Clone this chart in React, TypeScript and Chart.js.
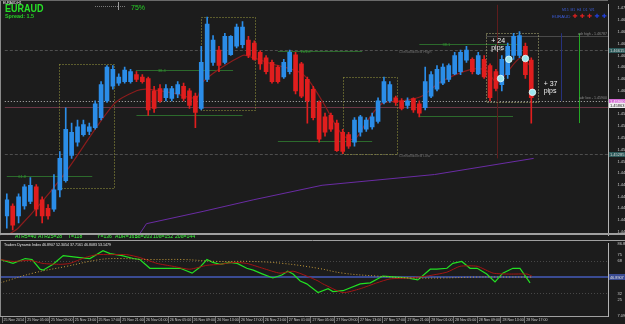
import React, { useEffect, useRef } from "react";
import { Chart, registerables } from "chart.js";

Chart.register(...registerables);

const FONT = "'Liberation Sans', Arial, sans-serif";

// ---------------- data ----------------
const candleOpen = [
  1.4442, 1.4455, 1.4442, 1.4455, 1.4461, 1.4480, 1.4463, 1.4452, 1.4451, 1.4476,
  1.4488, 1.4521, 1.4538, 1.4548, 1.4552, 1.4557, 1.4570, 1.4592, 1.4611, 1.4615,
  1.4617, 1.4617, 1.4626, 1.4623, 1.4621, 1.4605, 1.4608, 1.4596, 1.4595, 1.4601,
  1.4611, 1.4605, 1.4598, 1.4582, 1.4620, 1.4642, 1.4658, 1.4642, 1.4652, 1.4663,
  1.4665, 1.4671, 1.4667, 1.4655, 1.4648, 1.4642, 1.4636, 1.4623, 1.4630, 1.4652,
  1.4640, 1.4620, 1.4607, 1.4590, 1.4571, 1.4573, 1.4563, 1.4551, 1.4548, 1.4538,
  1.4551, 1.4555, 1.4558, 1.4565, 1.4590, 1.4592, 1.4596, 1.4592, 1.4586, 1.4595,
  1.4588, 1.4583, 1.4598, 1.4607, 1.4615, 1.4620, 1.4627, 1.4630, 1.4645, 1.4646,
  1.4627, 1.4646, 1.4638, 1.4630, 1.4613, 1.4626, 1.4651, 1.4651, 1.4663, 1.4645,
];
const candleHigh = [
  1.4471, 1.4458, 1.4471, 1.4483, 1.4492, 1.4483, 1.4467, 1.4457, 1.4496, 1.4526,
  1.4583, 1.4563, 1.4567, 1.4567, 1.4563, 1.4592, 1.4617, 1.4638, 1.4638, 1.4627,
  1.4636, 1.4633, 1.4630, 1.4626, 1.4623, 1.4611, 1.4613, 1.4613, 1.4611, 1.4617,
  1.4615, 1.4608, 1.4602, 1.4663, 1.4701, 1.4677, 1.4663, 1.4680, 1.4677, 1.4692,
  1.4695, 1.4676, 1.4670, 1.4657, 1.4651, 1.4645, 1.4638, 1.4646, 1.4658, 1.4655,
  1.4642, 1.4623, 1.4611, 1.4592, 1.4576, 1.4576, 1.4567, 1.4555, 1.4551, 1.4570,
  1.4573, 1.4570, 1.4576, 1.4596, 1.4623, 1.4617, 1.4598, 1.4595, 1.4596, 1.4596,
  1.4592, 1.4636, 1.4630, 1.4638, 1.4640, 1.4640, 1.4655, 1.4658, 1.4663, 1.4648,
  1.4655, 1.4651, 1.4640, 1.4633, 1.4651, 1.4667, 1.4680, 1.4682, 1.4667, 1.4648,
];
const candleLow = [
  1.4426, 1.4424, 1.4433, 1.4451, 1.4458, 1.4442, 1.4433, 1.4438, 1.4448, 1.4467,
  1.4486, 1.4517, 1.4533, 1.4546, 1.4548, 1.4555, 1.4567, 1.4590, 1.4607, 1.4612,
  1.4615, 1.4615, 1.4617, 1.4615, 1.4573, 1.4577, 1.4590, 1.4592, 1.4592, 1.4596,
  1.4592, 1.4582, 1.4557, 1.4580, 1.4617, 1.4638, 1.4630, 1.4640, 1.4651, 1.4661,
  1.4661, 1.4648, 1.4645, 1.4633, 1.4627, 1.4615, 1.4615, 1.4621, 1.4627, 1.4601,
  1.4596, 1.4563, 1.4567, 1.4538, 1.4546, 1.4552, 1.4526, 1.4523, 1.4530, 1.4533,
  1.4546, 1.4552, 1.4555, 1.4563, 1.4588, 1.4590, 1.4586, 1.4580, 1.4582, 1.4577,
  1.4571, 1.4580, 1.4596, 1.4605, 1.4613, 1.4617, 1.4626, 1.4626, 1.4642, 1.4627,
  1.4626, 1.4621, 1.4592, 1.4605, 1.4605, 1.4621, 1.4646, 1.4648, 1.4621, 1.4563,
];
const candleClose = [
  1.4463, 1.4430, 1.4467, 1.4480, 1.4482, 1.4451, 1.4442, 1.4442, 1.4476, 1.4517,
  1.4555, 1.4551, 1.4558, 1.4561, 1.4558, 1.4588, 1.4613, 1.4636, 1.4633, 1.4623,
  1.4632, 1.4630, 1.4620, 1.4617, 1.4580, 1.4582, 1.4592, 1.4608, 1.4608, 1.4613,
  1.4595, 1.4586, 1.4577, 1.4642, 1.4692, 1.4671, 1.4638, 1.4676, 1.4676, 1.4688,
  1.4688, 1.4651, 1.4646, 1.4640, 1.4630, 1.4617, 1.4617, 1.4642, 1.4655, 1.4605,
  1.4598, 1.4592, 1.4570, 1.4542, 1.4551, 1.4555, 1.4527, 1.4526, 1.4533, 1.4567,
  1.4571, 1.4567, 1.4571, 1.4592, 1.4617, 1.4613, 1.4590, 1.4582, 1.4592, 1.4580,
  1.4576, 1.4617, 1.4626, 1.4633, 1.4636, 1.4638, 1.4651, 1.4655, 1.4658, 1.4630,
  1.4651, 1.4623, 1.4596, 1.4608, 1.4646, 1.4663, 1.4676, 1.4677, 1.4626, 1.4596,
];

// fast moving average (dark red), read at bar positions
const fastMaX = [0, 1.9, 9.3, 18.2, 22, 24, 28.3, 32.2, 33.3, 40, 41.8, 45, 50.2, 53.5, 56.9, 59, 61.1, 63.6, 67, 70.4, 73.7, 78.8, 81.3, 83.2, 84.7, 87.2, 89];
const fastMaY = [1.4417, 1.4426, 1.4492, 1.4588, 1.4605, 1.4607, 1.4602, 1.4596, 1.4617, 1.4651, 1.4648, 1.4640, 1.4627, 1.4592, 1.4548, 1.4542, 1.4565, 1.4588, 1.4592, 1.4598, 1.4617, 1.4633, 1.4632, 1.4615, 1.4627, 1.4648, 1.4636];
// slow moving average (purple)
const slowMaX = [22.4, 23.7, 33.3, 41.8, 53.5, 72.6, 89.4];
const slowMaY = [1.4417, 1.4432, 1.4448, 1.4463, 1.4482, 1.4496, 1.4517];

// price axis tick labels
const priceTicks = [1.47125, 1.4697, 1.4682, 1.46665, 1.4651, 1.4636, 1.46205, 1.4605, 1.459, 1.45745, 1.4559, 1.45435, 1.45285, 1.4513, 1.44975, 1.44825, 1.4467, 1.4452, 1.44365, 1.4421];
const priceMin = 1.4417;
const priceMax = 1.4717;

// consolidation boxes
const boxStart = [8.9, 33, 57.1, 81.3];
const boxEnd = [18.2, 42.1, 66.2, 90.2];
const boxHigh = [1.464, 1.4701, 1.4623, 1.468];
const boxLow = [1.4478, 1.458, 1.4523, 1.459];

// fibo / level segments
const fibStart = [0, 21.9, 22, 46, 46, 70, 69.9];
const fibEnd = [14.5, 38.4, 40, 60.3, 62, 87, 85.9];
const fibPrice = [1.4494, 1.4632, 1.4573, 1.4657, 1.454, 1.4666, 1.4572];
const fibLabel = ["61.8", "38.4", "", "161.8", "", "38.1", ""];
const fibLabelX = [2.6, 26.3, 0, 50.7, 0, 74.6, 0];

// full-width levels
const pivotLevels = [1.4658, 1.4523];
const adrLowLevel = 1.4592;
const prevCloseLevel = 1.4584;
const adrHighLevel = 1.4677;
const adrHighStart = 81.3;

// vertical markers
const vMarkX = [83.2, 94.1, 97.1];
const vMarkTop = [1.4717, 1.468, 1.468];
const vMarkBottom = [1.4517, 1.4592, 1.4563];

// trade signal circles
const signalX = [83.8, 85.2, 88, 89.2];
const signalY = [1.4621, 1.4646, 1.4647, 1.4603];

// pips notes
const pipsText = ["+ 24", "+ 37"];
const pipsX = [82.2, 91.1];
const pipsY = [1.4667, 1.4611];

// axis tags
const tagPrice = [1.4658, 1.4592, 1.4586, 1.4523];
const tagText = ["1.46615", "1.45900", "1.45863", "1.45285"];

// info line
const infoTexts = ["ATR5=40", "ATR25=28", "T=118", "Y=136", "ADR=161", "5d=203", "10d=152", "20d=144"];

// time axis
const timeLabels = [
  "25 Nov 2014", "25 Nov 05:00", "25 Nov 09:00", "25 Nov 13:00", "25 Nov 17:00", "25 Nov 21:00",
  "26 Nov 01:00", "26 Nov 05:00", "26 Nov 09:00", "26 Nov 13:00", "26 Nov 17:00", "26 Nov 21:00",
  "27 Nov 01:00", "27 Nov 05:00", "27 Nov 09:00", "27 Nov 13:00", "27 Nov 17:00", "27 Nov 21:00",
  "28 Nov 01:00", "28 Nov 05:00", "28 Nov 09:00", "28 Nov 13:00", "28 Nov 17:00",
];
const timeLabelIndex = [0, 4, 8, 12, 16, 20, 24, 28, 32, 36, 40, 44, 48, 52, 56, 60, 64, 68, 72, 76, 80, 84, 88];

// Traders Dynamic Index
const tdiGreenX = [-0.3, 1.85, 3.9, 5.05, 6.4, 6.9, 8.6, 10.3, 13.1, 14.8, 17, 18.2, 20.2, 22.1, 23.2, 24.9, 27.8, 30, 32, 33.3, 34.5, 35.5, 36.7, 38.4, 39.6, 41.2, 42.3, 43.9, 45.6, 47.1, 48.1, 49, 50.2, 51.3, 53.2, 54.9, 55.7, 57.4, 60.3, 62, 64.1, 66.5, 68.2, 70, 72.1, 73.2, 74.9, 75.9, 77.4, 78.8, 80, 81.6, 83, 84.3, 86, 87.2, 88.9];
const tdiGreenY = [69.6, 65.3, 70.7, 69.6, 58.9, 57.8, 64.3, 74.0, 71.8, 70.7, 79.3, 76.1, 74.0, 70.7, 69.6, 59.9, 59.9, 59.9, 54.5, 61.0, 69.6, 66.4, 64.3, 66.4, 65.3, 59.9, 57.8, 53.5, 49.2, 52.4, 56.7, 53.5, 45.9, 42.7, 33.0, 37.3, 34.1, 35.1, 42.7, 43.8, 51.3, 50.2, 49.2, 47.0, 58.9, 58.9, 59.9, 65.3, 67.5, 59.9, 59.9, 53.5, 44.8, 54.5, 59.9, 59.9, 43.8];
const tdiRedX = [-0.3, 1.85, 4.7, 6.9, 9.8, 11.4, 14, 16, 18.2, 21, 23.2, 26.1, 28.8, 31.6, 34.5, 36.7, 38.9, 41.2, 43.9, 46.8, 49, 51.3, 53.2, 54, 57.4, 60.3, 63.1, 65.3, 68.7, 71.5, 74.9, 77.1, 80, 82.7, 85.5, 88.4, 89.2];
const tdiRedY = [69.6, 67.5, 68.6, 65.3, 64.3, 65.3, 71.8, 75.0, 75.0, 75.0, 71.8, 65.3, 62.1, 58.9, 63.2, 64.3, 66.4, 65.3, 59.9, 54.5, 56.7, 51.3, 45.9, 42.7, 33.0, 37.3, 43.8, 48.1, 49.2, 51.3, 55.6, 62.1, 62.1, 54.5, 53.5, 53.5, 51.3];
const tdiBaseX = [-0.3, 5.2, 10.9, 16.5, 19.9, 24.9, 30.5, 36.2, 41.8, 47.3, 53.2, 57.4, 63.1, 68.7, 74.2, 80, 85.5, 89.2];
const tdiBaseY = [43.8, 54.5, 62.1, 69.6, 70.7, 69.6, 69.6, 67.5, 67.5, 65.3, 59.9, 54.5, 51.3, 49.2, 49.2, 50.2, 50.2, 50.2];
const tdiTicks = [86.8954, 75, 68, 32, 25, 7.0936];
const tdiMin = 7.0936;
const tdiMax = 86.8954;
const tdiDotLevels = [68, 32];
const tdiMidLevel = 50;
const tdiTitle = "Traders Dynamic Index 46.8907 52.3054 37.7161 46.8083 53.1479";
const tdiTag = "46.8907";

// ---------------- layout / style ----------------
const X_MIN = -0.34;
const X_MAX = 102.02;
const AXIS_W = 17;
const BG = "#1c1c1c";
const BULL = "#2b8de8";
const BEAR = "#e01e1e";
const tagBg = ["#2c5a5a", "#d46ad4", "#eeeeee", "#2c5a5a"];
const tagFg = ["#d8d8d8", "#ffffff", "#222222", "#d8d8d8"];
const vMarkColor = ["#5e1c1c", "#26317e", "#24a824"];
const infoX = [15, 38, 68, 97, 115, 135, 153, 175];

const toPts = (xs: number[], ys: number[]) => xs.map((x, i) => ({ x, y: ys[i] }));

function hLine(ctx: CanvasRenderingContext2D, x0: number, x1: number, y: number, color: string, width = 1, dash: number[] = []) {
  ctx.save();
  ctx.strokeStyle = color;
  ctx.lineWidth = width;
  ctx.setLineDash(dash);
  const yy = Math.round(y) + (width % 2 ? 0.5 : 0);
  ctx.beginPath();
  ctx.moveTo(x0, yy);
  ctx.lineTo(x1, yy);
  ctx.stroke();
  ctx.restore();
}
function vLine(ctx: CanvasRenderingContext2D, x: number, y0: number, y1: number, color: string, width = 1, dash: number[] = []) {
  ctx.save();
  ctx.strokeStyle = color;
  ctx.lineWidth = width;
  ctx.setLineDash(dash);
  const xx = Math.round(x) + (width % 2 ? 0.5 : 0);
  ctx.beginPath();
  ctx.moveTo(xx, y0);
  ctx.lineTo(xx, y1);
  ctx.stroke();
  ctx.restore();
}
function text(ctx: CanvasRenderingContext2D, s: string, x: number, y: number, color: string, size: number, bold = false, align: CanvasTextAlign = "left", family = FONT) {
  ctx.save();
  ctx.fillStyle = color;
  ctx.font = `${bold ? "bold " : ""}${size}px ${family}`;
  ctx.textAlign = align;
  ctx.textBaseline = "alphabetic";
  ctx.fillText(s, x, y);
  ctx.restore();
}

const mainOverlay = {
  id: "mainOverlay",
  beforeDatasetsDraw(chart: any) {
    const { ctx, chartArea: a, scales } = chart;
    const xs = scales.x;
    const ys = scales.y;
    pivotLevels.forEach((p) => hLine(ctx, a.left, a.right, ys.getPixelForValue(p), "#4e4e4e", 1, [3, 2]));
    hLine(ctx, a.left, a.right, ys.getPixelForValue(prevCloseLevel), "#6a3644", 1);
    hLine(ctx, a.left, a.right, ys.getPixelForValue(adrLowLevel), "#b8b8b8", 1, [1, 2]);
    hLine(ctx, xs.getPixelForValue(adrHighStart), a.right, ys.getPixelForValue(adrHighLevel), "#4a4a4a", 1);
    fibStart.forEach((s, i) => {
      hLine(ctx, xs.getPixelForValue(s), xs.getPixelForValue(fibEnd[i]), ys.getPixelForValue(fibPrice[i]), "#2c6a2c", 1);
    });
    vMarkX.forEach((v, i) => {
      vLine(ctx, xs.getPixelForValue(v), ys.getPixelForValue(vMarkTop[i]), ys.getPixelForValue(vMarkBottom[i]), vMarkColor[i], 1);
    });
    boxStart.forEach((s, i) => {
      const x0 = Math.round(xs.getPixelForValue(s)) + 0.5;
      const x1 = Math.round(xs.getPixelForValue(boxEnd[i])) + 0.5;
      const y0 = Math.round(ys.getPixelForValue(boxHigh[i])) + 0.5;
      const y1 = Math.round(ys.getPixelForValue(boxLow[i])) + 0.5;
      ctx.save();
      ctx.strokeStyle = i === 3 ? "#b4b47a" : "#9c9c3e";
      ctx.lineWidth = 1;
      ctx.setLineDash([1, 2]);
      ctx.strokeRect(x0, y0, x1 - x0, y1 - y0);
      ctx.restore();
    });
  },
  afterDatasetsDraw(chart: any) {
    const { ctx, scales } = chart;
    const xs = scales.x;
    const ys = scales.y;
    fibLabel.forEach((l, i) => {
      if (!l) return;
      text(ctx, l, xs.getPixelForValue(fibLabelX[i]), ys.getPixelForValue(fibPrice[i]) + 2, "#2f9a2f", 4, false, "center");
    });
    text(ctx, "Consolidated High", xs.getPixelForValue(66.5), ys.getPixelForValue(1.4656) + 1.5, "#6c6c6c", 4);
    text(ctx, "Consolidated Low", xs.getPixelForValue(66.5), ys.getPixelForValue(1.4521) + 1.5, "#6c6c6c", 4);
    text(ctx, "adr high - 1.46787", chart.chartArea.right - 1, ys.getPixelForValue(adrHighLevel) - 1, "#8a8a8a", 3.6, false, "right");
    text(ctx, "adr low - 1.45900", chart.chartArea.right - 1, ys.getPixelForValue(adrLowLevel) - 2, "#8a8a8a", 3.6, false, "right");
    pipsText.forEach((s, i) => {
      const x = xs.getPixelForValue(pipsX[i]);
      const y = ys.getPixelForValue(pipsY[i]);
      text(ctx, s, x, y, "#f0f0f0", 7);
      text(ctx, "pips", x, y + 7, "#f0f0f0", 7);
    });
  },
  afterDraw(chart: any) {
    const { ctx, chartArea: a, scales } = chart;
    const ys = scales.y;
    tagPrice.forEach((p, i) => {
      const y = Math.round(ys.getPixelForValue(p));
      ctx.save();
      ctx.fillStyle = tagBg[i];
      ctx.fillRect(a.right + 1, y - 2, AXIS_W - 1, 5);
      ctx.restore();
      text(ctx, tagText[i], a.right + 2, y + 2, tagFg[i], 4);
    });
    text(ctx, "EURAUD,H1", 3, 4, "#ffffff", 3.2);
    ctx.save();
    ctx.translate(5, 12);
    ctx.scale(0.82, 1);
    text(ctx, "EURAUD", 0, 0, "#27e027", 11, true);
    ctx.restore();
    text(ctx, "Spread: 1.5", 5, 18, "#27d027", 5.4, true);
    hLine(ctx, 95, 118, 6, "#7a7a7a", 1, [1, 1]);
    hLine(ctx, 120, 126, 6, "#7a7a7a", 1, [1, 1]);
    vLine(ctx, 118, 2, 10, "#9a9a9a", 1);
    text(ctx, "75%", 131, 9.5, "#27d027", 7);
    text(ctx, "M15  M1  H4  D1  W1", 562, 11, "#3b5bd6", 3.4);
    text(ctx, "EURAUD", 552, 17.5, "#3b5bd6", 4.4);
    ["#e02020", "#e02020", "#e02020", "#2040e0", "#2040e0"].forEach((c, i) => {
      text(ctx, "\u271A", 575 + i * 7.3, 18, c, 6, false, "center", "'DejaVu Sans'");
    });
    infoTexts.forEach((s, i) => {
      ctx.save();
      ctx.translate(infoX[i], 237.5);
      ctx.scale(0.85, 1);
      text(ctx, s, 0, 0, "#3cff3c", 6);
      ctx.restore();
    });
    vLine(ctx, 0, 0, a.bottom, "#8a8a8a", 1);
    hLine(ctx, 0, a.right, 0, "#6a6a6a", 1);
    hLine(ctx, 0, 625, a.bottom - 1, "#a0a0a0", 2);
  },
};

const oscOverlay = {
  id: "oscOverlay",
  beforeDatasetsDraw(chart: any) {
    const { ctx, chartArea: a, scales } = chart;
    const ys = scales.y;
    tdiDotLevels.forEach((v) => hLine(ctx, a.left, a.right, ys.getPixelForValue(v), "#474747", 1, [1, 2]));
    hLine(ctx, a.left, a.right, ys.getPixelForValue(tdiMidLevel), "#3a4b92", 2);
  },
  afterDraw(chart: any) {
    const { ctx, chartArea: a, scales } = chart;
    const ys = scales.y;
    text(ctx, tdiTitle, 4, 6, "#e6e6e6", 3.6);
    const y = Math.round(ys.getPixelForValue(tdiMidLevel));
    ctx.save();
    ctx.fillStyle = "#3a4b92";
    ctx.fillRect(a.right + 1, y - 3, AXIS_W - 1, 6);
    ctx.restore();
    text(ctx, tdiTag, a.right + 2, y + 1.5, "#e0e0e0", 3.8);
    vLine(ctx, 0, 0, a.bottom, "#8a8a8a", 1);
    hLine(ctx, 0, 625, 0, "#a0a0a0", 1);
  },
};

export default function App() {
  const mainRef = useRef<HTMLCanvasElement>(null);
  const oscRef = useRef<HTMLCanvasElement>(null);

  useEffect(() => {
    document.body.style.margin = "0";
    document.body.style.background = BG;
    const idx = candleOpen.map((_, i) => i);
    const colors = idx.map((i) => (candleClose[i] >= candleOpen[i] ? BULL : BEAR));

    const main = new Chart(mainRef.current as HTMLCanvasElement, {
      type: "bar",
      data: {
        datasets: [
          {
            type: "line",
            data: toPts(slowMaX, slowMaY),
            borderColor: "#6a2ca4",
            borderWidth: 1,
            pointRadius: 0,
            order: 6,
          } as any,
          {
            type: "line",
            data: toPts(fastMaX, fastMaY),
            borderColor: "#8a1c1c",
            borderWidth: 1.2,
            pointRadius: 0,
            tension: 0.3,
            order: 5,
          } as any,
          {
            type: "bar",
            data: idx.map((i) => ({ x: i, y: [candleLow[i], candleHigh[i]] })),
            backgroundColor: colors,
            barThickness: 1,
            grouped: false,
            order: 3,
          } as any,
          {
            type: "bar",
            data: idx.map((i) => ({ x: i, y: [candleOpen[i], candleClose[i]] })),
            backgroundColor: colors,
            barThickness: 4,
            minBarLength: 1,
            grouped: false,
            order: 2,
          } as any,
          {
            type: "line",
            data: toPts(signalX, signalY),
            showLine: false,
            pointRadius: 3.3,
            pointBackgroundColor: "#9ee6ee",
            pointBorderColor: "#e8ffff",
            pointBorderWidth: 0.8,
            order: 0,
          } as any,
        ],
      },
      options: {
        animation: false,
        responsive: false,
        maintainAspectRatio: false,
        events: [],
        layout: { padding: 0 },
        plugins: { legend: { display: false }, tooltip: { enabled: false } },
        scales: {
          x: { type: "linear", min: X_MIN, max: X_MAX, display: false, offset: false },
          y: {
            type: "linear",
            position: "right",
            min: priceMin,
            max: priceMax,
            beginAtZero: false,
            afterFit: (s: any) => {
              s.width = AXIS_W;
            },
            afterBuildTicks: (s: any) => {
              s.ticks = priceTicks.map((v) => ({ value: v }));
            },
            grid: { display: false },
            border: { display: true, color: "#b4b4b4", width: 1 },
            ticks: {
              color: "#c8c8c8",
              font: { size: 4, family: FONT },
              padding: 1.5,
              autoSkip: false,
              callback: (v: any) => Number(v).toFixed(5),
            },
          },
        },
      } as any,
      plugins: [mainOverlay],
    });

    const osc = new Chart(oscRef.current as HTMLCanvasElement, {
      type: "line",
      data: {
        datasets: [
          {
            data: toPts(tdiBaseX, tdiBaseY),
            borderColor: "#c49a3a",
            borderWidth: 1,
            borderDash: [1, 2],
            pointRadius: 0,
            tension: 0.4,
          },
          {
            data: toPts(tdiRedX, tdiRedY),
            borderColor: "#a41414",
            borderWidth: 1,
            pointRadius: 0,
            tension: 0.2,
          },
          {
            data: toPts(tdiGreenX, tdiGreenY),
            borderColor: "#22e022",
            borderWidth: 1.2,
            pointRadius: 0,
          },
        ],
      },
      options: {
        animation: false,
        responsive: false,
        maintainAspectRatio: false,
        events: [],
        layout: { padding: { top: 2, left: 0, right: 0, bottom: 0 } },
        plugins: { legend: { display: false }, tooltip: { enabled: false } },
        scales: {
          x: {
            type: "linear",
            min: X_MIN,
            max: X_MAX,
            position: "bottom",
            afterFit: (s: any) => {
              s.height = 8;
            },
            afterBuildTicks: (s: any) => {
              s.ticks = timeLabelIndex.map((v) => ({ value: v }));
            },
            grid: { display: true, drawOnChartArea: false, drawTicks: true, tickLength: 7, color: "#707070" },
            border: { display: true, color: "#a0a0a0", width: 1 },
            ticks: {
              color: "#cfcfcf",
              font: { size: 3.6, family: FONT },
              padding: -5.5,
              autoSkip: false,
              maxRotation: 0,
              align: "start",
              labelOffset: 1.5,
              callback: (_v: any, i: number) => timeLabels[i],
            },
          },
          y: {
            type: "linear",
            position: "right",
            min: tdiMin,
            max: tdiMax,
            afterFit: (s: any) => {
              s.width = AXIS_W;
            },
            afterBuildTicks: (s: any) => {
              s.ticks = tdiTicks.map((v) => ({ value: v }));
            },
            grid: { display: false },
            border: { display: true, color: "#b4b4b4", width: 1 },
            ticks: {
              color: "#c8c8c8",
              font: { size: 4, family: FONT },
              padding: 1.5,
              autoSkip: false,
              callback: (v: any) => (Number.isInteger(v) ? String(v) : Number(v).toFixed(4)),
            },
          },
        },
      } as any,
      plugins: [oscOverlay],
    });

    return () => {
      main.destroy();
      osc.destroy();
    };
  }, []);

  return (
    <div style={{ position: "fixed", left: 0, top: 0, width: 625, height: 324, background: BG, overflow: "hidden" }}>
      <canvas ref={mainRef} width={625} height={240} style={{ position: "absolute", left: 0, top: 0 }} />
      <canvas ref={oscRef} width={625} height={84} style={{ position: "absolute", left: 0, top: 240 }} />
    </div>
  );
}
